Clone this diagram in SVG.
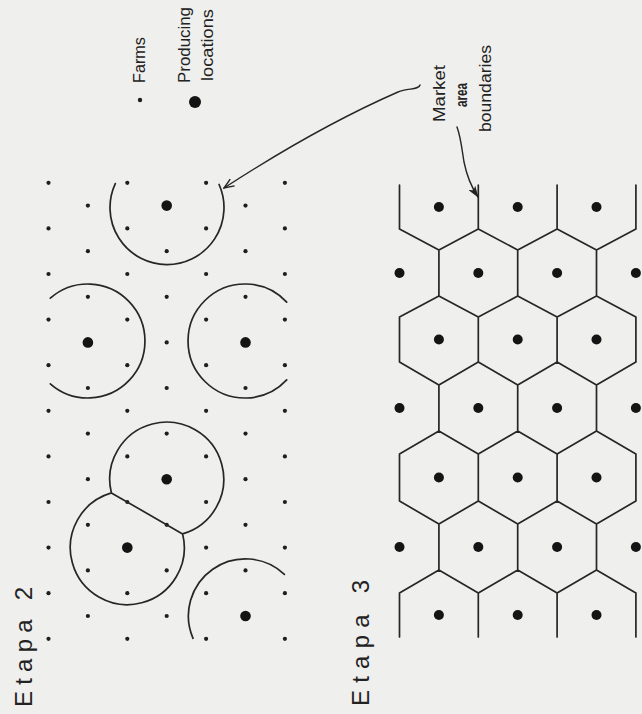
<svg xmlns="http://www.w3.org/2000/svg" width="642" height="714" viewBox="0 0 642 714">
<style>
.farm{fill:#1e1e1e}
.prod{fill:#141414}
.bound{fill:none;stroke:#262626;stroke-width:1.7;stroke-linecap:round;stroke-linejoin:round}
.conn{fill:none;stroke:#262626;stroke-width:1.4;stroke-linecap:round}
.lbl{font-family:"Liberation Sans",Arial,sans-serif;fill:#222}
</style>
<defs>
<marker id="arrOpen" viewBox="0 0 12 10" refX="11" refY="5" markerWidth="12" markerHeight="10" orient="auto" markerUnits="userSpaceOnUse">
<path d="M1,1 L11,5 L1,9" fill="none" stroke="#222" stroke-width="1.4"/>
</marker>
<marker id="arrFill" viewBox="0 0 12 8" refX="11" refY="4" markerWidth="12" markerHeight="8" orient="auto" markerUnits="userSpaceOnUse">
<path d="M0,0 L12,4 L0,8 L3,4 Z" fill="#222"/>
</marker>
</defs>
<rect width="642" height="714" fill="#efefed"/>

<g id="legend">
<circle class="farm" cx="140" cy="100" r="2.2"/>
<text class="lbl" font-size="17" textLength="46" lengthAdjust="spacingAndGlyphs" transform="translate(145,83) rotate(-90)">Farms</text>
<circle class="prod" cx="195" cy="102" r="6"/>
<text class="lbl" font-size="17" textLength="76" lengthAdjust="spacingAndGlyphs" transform="translate(190,83) rotate(-90)">Producing</text>
<text class="lbl" font-size="17" textLength="72" lengthAdjust="spacingAndGlyphs" transform="translate(213,81) rotate(-90)">locations</text>
</g>

<g id="market-label">
<text class="lbl" font-size="17" textLength="57" lengthAdjust="spacingAndGlyphs" transform="translate(445,122) rotate(-90)">Market</text>
<text class="lbl" font-size="16" font-weight="bold" textLength="24" lengthAdjust="spacingAndGlyphs" transform="translate(467,107) rotate(-90)">area</text>
<text class="lbl" font-size="17" textLength="87" lengthAdjust="spacingAndGlyphs" transform="translate(491,132) rotate(-90)">boundaries</text>
</g>

<g id="etapa2">
<text class="lbl" font-size="24" textLength="120" lengthAdjust="spacing" transform="translate(32,707) rotate(-90)">Etapa 2</text>
<g id="farms2">
<circle class="farm" cx="48.5" cy="182.8" r="2.1"/><circle class="farm" cx="48.5" cy="228.4" r="2.1"/><circle class="farm" cx="48.5" cy="274" r="2.1"/><circle class="farm" cx="48.5" cy="319.6" r="2.1"/><circle class="farm" cx="48.5" cy="365.2" r="2.1"/><circle class="farm" cx="48.5" cy="410.8" r="2.1"/><circle class="farm" cx="48.5" cy="456.4" r="2.1"/><circle class="farm" cx="48.5" cy="502" r="2.1"/><circle class="farm" cx="48.5" cy="547.6" r="2.1"/><circle class="farm" cx="48.5" cy="593.2" r="2.1"/><circle class="farm" cx="48.5" cy="638.8" r="2.1"/>
<circle class="farm" cx="127.3" cy="182.8" r="2.1"/><circle class="farm" cx="127.3" cy="228.4" r="2.1"/><circle class="farm" cx="127.3" cy="274" r="2.1"/><circle class="farm" cx="127.3" cy="319.6" r="2.1"/><circle class="farm" cx="127.3" cy="365.2" r="2.1"/><circle class="farm" cx="127.3" cy="410.8" r="2.1"/><circle class="farm" cx="127.3" cy="456.4" r="2.1"/><circle class="farm" cx="127.3" cy="502" r="2.1"/><circle class="farm" cx="127.3" cy="593.2" r="2.1"/><circle class="farm" cx="127.3" cy="638.8" r="2.1"/>
<circle class="farm" cx="206.1" cy="182.8" r="2.1"/><circle class="farm" cx="206.1" cy="228.4" r="2.1"/><circle class="farm" cx="206.1" cy="274" r="2.1"/><circle class="farm" cx="206.1" cy="319.6" r="2.1"/><circle class="farm" cx="206.1" cy="365.2" r="2.1"/><circle class="farm" cx="206.1" cy="410.8" r="2.1"/><circle class="farm" cx="206.1" cy="456.4" r="2.1"/><circle class="farm" cx="206.1" cy="502" r="2.1"/><circle class="farm" cx="206.1" cy="547.6" r="2.1"/><circle class="farm" cx="206.1" cy="593.2" r="2.1"/><circle class="farm" cx="206.1" cy="638.8" r="2.1"/>
<circle class="farm" cx="284.9" cy="182.8" r="2.1"/><circle class="farm" cx="284.9" cy="228.4" r="2.1"/><circle class="farm" cx="284.9" cy="274" r="2.1"/><circle class="farm" cx="284.9" cy="319.6" r="2.1"/><circle class="farm" cx="284.9" cy="365.2" r="2.1"/><circle class="farm" cx="284.9" cy="410.8" r="2.1"/><circle class="farm" cx="284.9" cy="456.4" r="2.1"/><circle class="farm" cx="284.9" cy="502" r="2.1"/><circle class="farm" cx="284.9" cy="547.6" r="2.1"/><circle class="farm" cx="284.9" cy="593.2" r="2.1"/><circle class="farm" cx="284.9" cy="638.8" r="2.1"/>
<circle class="farm" cx="87.9" cy="205.6" r="2.1"/><circle class="farm" cx="87.9" cy="251.2" r="2.1"/><circle class="farm" cx="87.9" cy="296.8" r="2.1"/><circle class="farm" cx="87.9" cy="388" r="2.1"/><circle class="farm" cx="87.9" cy="433.6" r="2.1"/><circle class="farm" cx="87.9" cy="479.2" r="2.1"/><circle class="farm" cx="87.9" cy="524.8" r="2.1"/><circle class="farm" cx="87.9" cy="570.4" r="2.1"/><circle class="farm" cx="87.9" cy="616" r="2.1"/>
<circle class="farm" cx="166.7" cy="251.2" r="2.1"/><circle class="farm" cx="166.7" cy="296.8" r="2.1"/><circle class="farm" cx="166.7" cy="342.4" r="2.1"/><circle class="farm" cx="166.7" cy="388" r="2.1"/><circle class="farm" cx="166.7" cy="433.6" r="2.1"/><circle class="farm" cx="166.7" cy="524.8" r="2.1"/><circle class="farm" cx="166.7" cy="570.4" r="2.1"/><circle class="farm" cx="166.7" cy="616" r="2.1"/>
<circle class="farm" cx="245.5" cy="205.6" r="2.1"/><circle class="farm" cx="245.5" cy="251.2" r="2.1"/><circle class="farm" cx="245.5" cy="296.8" r="2.1"/><circle class="farm" cx="245.5" cy="388" r="2.1"/><circle class="farm" cx="245.5" cy="433.6" r="2.1"/><circle class="farm" cx="245.5" cy="479.2" r="2.1"/><circle class="farm" cx="245.5" cy="524.8" r="2.1"/><circle class="farm" cx="245.5" cy="570.4" r="2.1"/>
</g>
<g id="producers2">
<circle class="prod" cx="166.7" cy="205.6" r="5.3"/>
<circle class="prod" cx="87.9" cy="342.4" r="5.3"/>
<circle class="prod" cx="245.5" cy="342.4" r="5.3"/>
<circle class="prod" cx="166.7" cy="479.2" r="5.3"/>
<circle class="prod" cx="127.3" cy="547.6" r="5.3"/>
<circle class="prod" cx="245.5" cy="616" r="5.3"/>
</g>
<g id="areas2">
<path class="bound" d="M115.3 183.6 A57 57 0 1 0 219.1 184.5"/>
<path class="bound" d="M50.3 298.2 A57 57 0 1 1 50.3 383.8"/>
<path class="bound" d="M286.7 302.1 A57 57 0 1 0 286.7 379.9"/>
<path class="bound" d="M182.6 533.9 A57 57 0 1 0 111.4 492.9 A57 57 0 1 0 182.6 533.9 M111.4 492.9 L182.6 533.9"/>
<path class="bound" d="M284.4 574.3 A57 57 0 0 0 193 638.3"/>
</g>
</g>

<g id="etapa3">
<text class="lbl" font-size="24" textLength="126" lengthAdjust="spacing" transform="translate(369,706) rotate(-90)">Etapa 3</text>
<path id="hexgrid" class="bound" d="M399.5 185V229M478.3 185V229M557.1 185V229M635.9 185V229
M438.9 250V296M517.7 250V296M596.5 250V296
M399.5 317V362M478.3 317V362M557.1 317V362M635.9 317V362
M438.9 385V431M517.7 385V431M596.5 385V431
M399.5 454V501M478.3 454V501M557.1 454V501M635.9 454V501
M438.9 524V570M517.7 524V570M596.5 524V570
M399.5 593V637M478.3 593V637M557.1 593V637M635.9 593V637
M399.5 229L438.9 250L478.3 229L517.7 250L557.1 229L596.5 250L635.9 229
M399.5 317L438.9 296L478.3 317L517.7 296L557.1 317L596.5 296L635.9 317
M399.5 362L438.9 385L478.3 362L517.7 385L557.1 362L596.5 385L635.9 362
M399.5 454L438.9 431L478.3 454L517.7 431L557.1 454L596.5 431L635.9 454
M399.5 501L438.9 524L478.3 501L517.7 524L557.1 501L596.5 524L635.9 501
M399.5 593L438.9 570L478.3 593L517.7 570L557.1 593L596.5 570L635.9 593"/>
<g id="producers3">
<circle class="prod" cx="438.9" cy="207" r="5"/><circle class="prod" cx="517.7" cy="207" r="5"/><circle class="prod" cx="596.5" cy="207" r="5"/>
<circle class="prod" cx="399.5" cy="273" r="5"/><circle class="prod" cx="478.3" cy="273" r="5"/><circle class="prod" cx="557.1" cy="273" r="5"/><circle class="prod" cx="635.9" cy="273" r="5"/>
<circle class="prod" cx="438.9" cy="339.5" r="5"/><circle class="prod" cx="517.7" cy="339.5" r="5"/><circle class="prod" cx="596.5" cy="339.5" r="5"/>
<circle class="prod" cx="399.5" cy="408" r="5"/><circle class="prod" cx="478.3" cy="408" r="5"/><circle class="prod" cx="557.1" cy="408" r="5"/><circle class="prod" cx="635.9" cy="408" r="5"/>
<circle class="prod" cx="438.9" cy="477.5" r="5"/><circle class="prod" cx="517.7" cy="477.5" r="5"/><circle class="prod" cx="596.5" cy="477.5" r="5"/>
<circle class="prod" cx="399.5" cy="547" r="5"/><circle class="prod" cx="478.3" cy="547" r="5"/><circle class="prod" cx="557.1" cy="547" r="5"/><circle class="prod" cx="635.9" cy="547" r="5"/>
<circle class="prod" cx="438.9" cy="615" r="5"/><circle class="prod" cx="517.7" cy="615" r="5"/><circle class="prod" cx="596.5" cy="615" r="5"/>
</g>
</g>

<g id="connectors">
<path class="conn" marker-end="url(#arrOpen)" d="M420 85 C419 90 408 88 398 92 Q318 127 224 188"/>
<path class="conn" marker-end="url(#arrFill)" d="M457 127 C461 138 462 150 464 162 Q468 182 478 197"/>
</g>
</svg>
